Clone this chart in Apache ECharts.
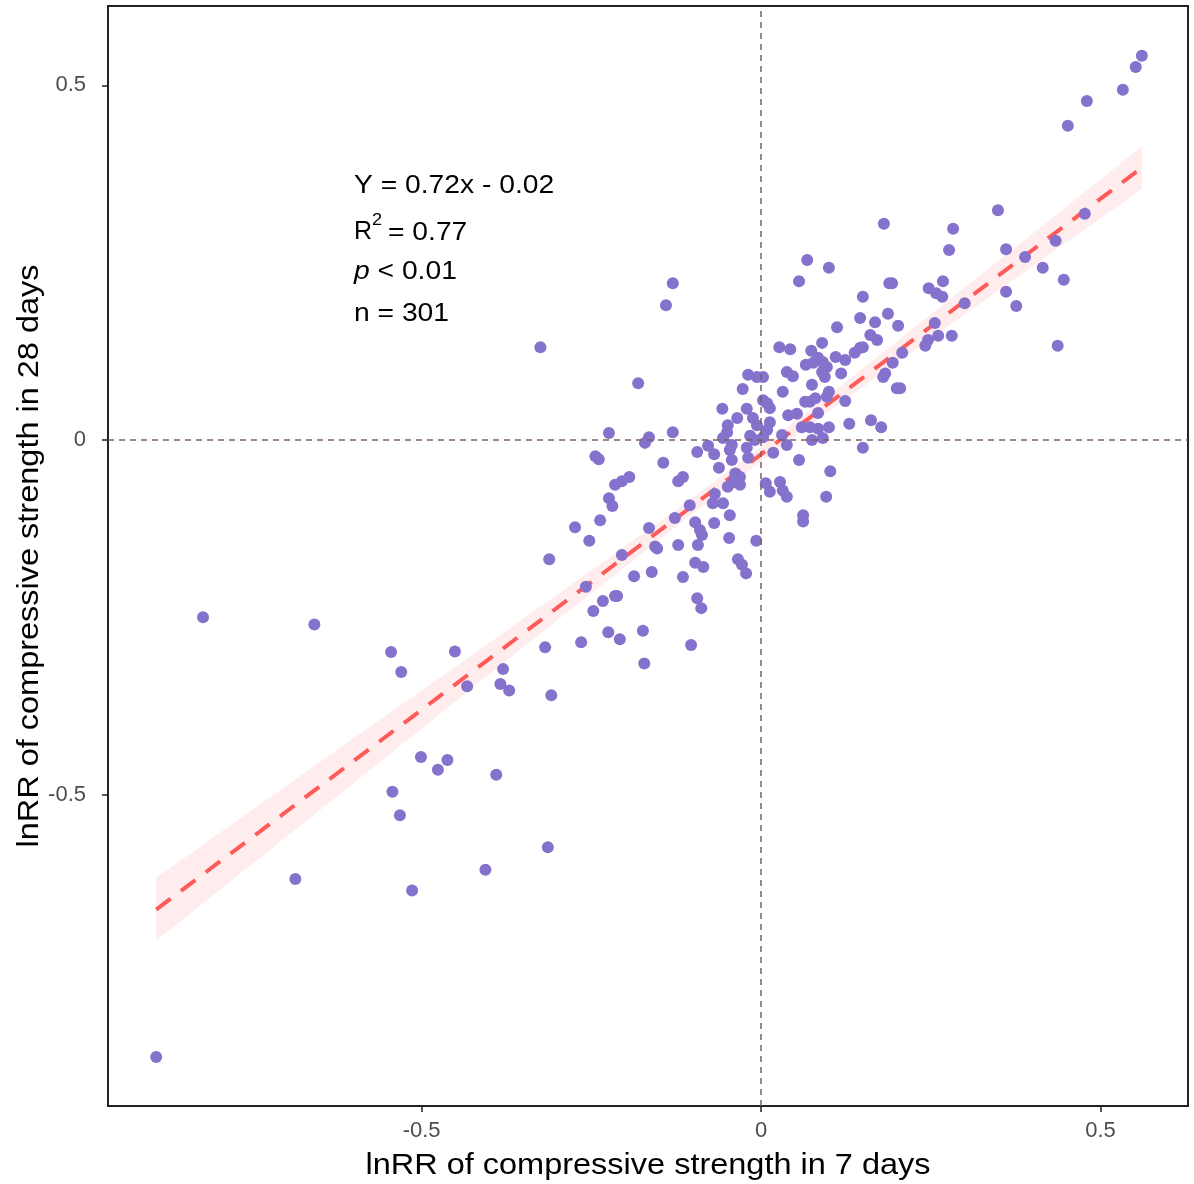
<!DOCTYPE html>
<html><head><meta charset="utf-8">
<script src="https://cdn.jsdelivr.net/npm/echarts@6/dist/echarts.min.js"></script>
<style>html,body{margin:0;padding:0;background:#fff}#c{width:1194px;height:1184px}</style>
</head><body><div id="c"></div>
<script>
// Scatter points: lnRR 7 days (x) vs lnRR 28 days (y)
const xValues = [
-0.891,-0.822,-0.658,-0.686,-0.545,-0.530,-0.451,-0.433,-0.380,-0.384,-0.371,-0.318,-0.309,-0.501,-0.476,-0.462,-0.543,-0.532,-0.390,-0.406,-0.514,-0.314,-0.325,-0.130,-0.140,-0.181,
0.561,0.552,0.533,0.480,0.452,0.349,0.477,0.361,0.389,0.434,0.415,0.446,0.361,0.376,0.300,0.437,
0.181,0.283,0.277,0.068,0.100,0.056,0.189,0.193,0.268,0.247,0.258,0.267,0.150,0.187,0.146,0.168,0.202,0.112,0.256,0.161,0.171,0.090,0.027,0.043,0.242,0.246,0.261,0.281,0.074,0.146,0.150,0.138,0.208,0.110,0.124,0.091,0.097,0.066,0.077,0.038,0.047,0.003,0.090,0.094,0.118,0.194,0.180,0.183,0.200,0.205,0.032,0.075,0.100,0.097,0.065,0.072,0.080,0.003,0.009,0.013,0.124,0.084,0.040,0.053,0.013,0.009,0.003,0.060,0.072,0.084,0.100,0.130,0.162,0.177,0.031,0.038,0.075,0.091,0.018,0.150,0.056,0.102,0.084,
-0.019,-0.006,-0.027,-0.057,-0.021,-0.035,-0.012,-0.006,-0.049,-0.050,-0.224,-0.130,-0.165,-0.171,-0.056,-0.043,-0.016,-0.009,-0.078,-0.094,-0.069,-0.046,-0.043,-0.021,-0.019,-0.244,-0.239,-0.144,-0.062,-0.038,-0.031,-0.041,-0.049,-0.031,-0.194,-0.205,-0.215,-0.115,-0.122,0.007,0.013,-0.224,-0.219,-0.068,-0.071,-0.056,-0.105,-0.046,-0.274,-0.237,-0.127,-0.165,-0.097,-0.090,-0.087,-0.069,-0.253,-0.156,-0.122,-0.047,-0.007,-0.093,-0.205,-0.153,-0.258,-0.233,-0.215,-0.212,-0.247,-0.187,-0.161,-0.115,-0.097,-0.085,-0.034,-0.028,-0.022,-0.094,-0.088,-0.225,-0.208,-0.265,-0.174,-0.172,-0.103,-0.312,
0.028,0.032,0.038,0.062,0.096,0.062
];
const yValues = [
-0.870,-0.250,-0.260,-0.619,-0.299,-0.327,-0.298,-0.347,-0.323,-0.344,-0.353,-0.292,-0.360,-0.447,-0.465,-0.451,-0.496,-0.529,-0.472,-0.606,-0.635,-0.574,0.131,0.221,0.190,0.080,
0.542,0.526,0.494,0.478,0.443,0.324,0.319,0.269,0.258,0.281,0.243,0.226,0.209,0.189,0.193,0.133,
0.305,0.298,0.268,0.254,0.243,0.224,0.221,0.221,0.224,0.214,0.207,0.202,0.202,0.178,0.172,0.166,0.161,0.159,0.165,0.148,0.141,0.137,0.131,0.128,0.133,0.141,0.147,0.147,0.126,0.130,0.131,0.123,0.123,0.117,0.113,0.110,0.103,0.106,0.109,0.096,0.090,0.089,0.096,0.089,0.094,0.109,0.089,0.094,0.073,0.073,0.068,0.078,0.068,0.061,0.054,0.054,0.059,0.056,0.052,0.045,0.055,0.038,0.035,0.037,0.025,0.014,0.004,0.018,0.018,0.016,0.018,0.023,0.028,0.018,0.007,-0.007,0.000,0.003,-0.018,-0.011,-0.028,-0.044,0.116,
0.092,0.089,0.072,0.044,0.044,0.031,0.031,0.021,0.021,0.011,0.010,0.011,0.004,-0.004,0.003,-0.007,0.006,0.000,-0.008,-0.017,-0.020,-0.014,-0.028,-0.011,-0.025,-0.023,-0.027,-0.032,-0.039,-0.047,-0.052,-0.059,-0.066,-0.063,-0.052,-0.058,-0.063,-0.052,-0.058,-0.061,-0.073,-0.082,-0.093,-0.076,-0.089,-0.089,-0.092,-0.106,-0.123,-0.113,-0.110,-0.124,-0.116,-0.127,-0.134,-0.117,-0.142,-0.150,-0.148,-0.138,-0.142,-0.148,-0.162,-0.153,-0.207,-0.227,-0.220,-0.220,-0.241,-0.192,-0.186,-0.193,-0.173,-0.179,-0.168,-0.176,-0.188,-0.223,-0.237,-0.271,-0.281,-0.285,-0.269,-0.315,-0.289,-0.168,
-0.059,-0.071,-0.080,-0.106,-0.080,-0.115
];
// Fitted line Y = 0.72x - 0.02 (end points)
const fitX = [-0.891, 0.561];
const fitY = [-0.662, 0.384];
// 95% confidence band
const bandX     = [-0.891,-0.750,-0.625,-0.500,-0.375,-0.250,-0.125, 0.000, 0.125, 0.250, 0.400, 0.561];
const bandUpper = [-0.617,-0.522,-0.437,-0.353,-0.269,-0.184,-0.098,-0.010, 0.082, 0.177, 0.291, 0.414];
const bandLower = [-0.706,-0.598,-0.503,-0.407,-0.311,-0.216,-0.122,-0.030, 0.058, 0.143, 0.245, 0.354];
const xTicks = [-0.5, 0, 0.5];
const yTicks = [-0.5, 0, 0.5];
const xTitle = 'lnRR of compressive strength in 7 days';
const yTitle = 'lnRR of compressive strength in 28 days';

const FONT = '"Liberation Sans", Arial, sans-serif';
const points = xValues.map((x, i) => [x, yValues[i]]);
const fitData = fitX.map((x, i) => [x, fitY[i]]);
const fmt = v => (Math.abs(v) < 1e-9 ? '0' : String(v));
const SX = 1.13;   // horizontal text stretch seen in the reference
const TF = '25px ' + FONT;

const chart = echarts.init(document.getElementById('c'), null, {renderer: 'canvas'});
chart.setOption({
  backgroundColor: '#fff',
  animation: false,
  grid: {left: 108, right: 6, top: 6, bottom: 78, show: true, borderColor: '#222', borderWidth: 2, backgroundColor: 'transparent'},
  xAxis: {
    type: 'value', min: -0.962, max: 0.629,
    axisLine: {show: true, onZero: false, lineStyle: {color: '#222', width: 2}},
    axisTick: {show: true, length: 6, lineStyle: {color: '#222', width: 1.5}, customValues: xTicks},
    axisLabel: {customValues: xTicks, formatter: fmt, fontSize: 22, color: '#4d4d4d', fontFamily: FONT, margin: 14},
    splitLine: {show: false}
  },
  yAxis: {
    type: 'value', min: -0.939, max: 0.612,
    axisLine: {show: true, onZero: false, lineStyle: {color: '#222', width: 2}},
    axisTick: {show: true, length: 6, lineStyle: {color: '#222', width: 1.5}, customValues: yTicks},
    axisLabel: {customValues: yTicks, formatter: fmt, fontSize: 22, color: '#4d4d4d', fontFamily: FONT, margin: 22},
    splitLine: {show: false}
  },
  series: [
    {
      type: 'custom', z: 1, silent: true,
      data: [0],
      renderItem: function (params, api) {
        const pts = [];
        for (let i = 0; i < bandX.length; i++) pts.push(api.coord([bandX[i], bandUpper[i]]));
        for (let i = bandX.length - 1; i >= 0; i--) pts.push(api.coord([bandX[i], bandLower[i]]));
        return {type: 'polygon', shape: {points: pts}, style: {fill: 'rgba(255,110,110,0.13)', stroke: null}};
      },
      markLine: {
        silent: true, symbol: 'none', label: {show: false},
        lineStyle: {color: '#7d5f5f', type: [6, 5], width: 1.5},
        data: [{xAxis: 0}, {yAxis: 0}]
      }
    },
    {
      type: 'line', z: 2, data: fitData, symbol: 'none', silent: true,
      lineStyle: {color: '#ff5a5a', width: 4, type: [18, 13]}
    },
    {
      type: 'scatter', z: 3, data: points, symbol: 'circle', symbolSize: 12,
      itemStyle: {color: '#8572cc', opacity: 1}
    }
  ],
  graphic: [
    {type: 'text', x: 354, y: 186, scaleX: SX, style: {text: 'Y = 0.72x - 0.02', font: TF, fill: '#000', verticalAlign: 'middle'}},
    {type: 'text', x: 354, y: 232, style: {text: 'R', font: TF, fill: '#000', verticalAlign: 'middle'}},
    {type: 'text', x: 372, y: 221, scaleX: SX, style: {text: '2', font: '16px ' + FONT, fill: '#000', verticalAlign: 'middle'}},
    {type: 'text', x: 388, y: 233, scaleX: SX, style: {text: '= 0.77', font: TF, fill: '#000', verticalAlign: 'middle'}},
    {type: 'text', x: 354, y: 272, scaleX: SX, style: {text: '{i|p} < 0.01', font: TF, fill: '#000', verticalAlign: 'middle',
      rich: {i: {fontStyle: 'italic', fontSize: 25, fontFamily: FONT, fill: '#000'}}}},
    {type: 'text', x: 354, y: 314, scaleX: SX, style: {text: 'n = 301', font: TF, fill: '#000', verticalAlign: 'middle'}},
    {type: 'text', x: 648, y: 1166, scaleX: 1.12, style: {text: xTitle, font: '29px ' + FONT, fill: '#000', align: 'center', verticalAlign: 'middle'}},
    {type: 'text', x: 30, y: 556, rotation: Math.PI / 2, scaleX: 1.12, style: {text: yTitle, font: '29px ' + FONT, fill: '#000', align: 'center', verticalAlign: 'middle'}}
  ]
});
</script></body></html>
